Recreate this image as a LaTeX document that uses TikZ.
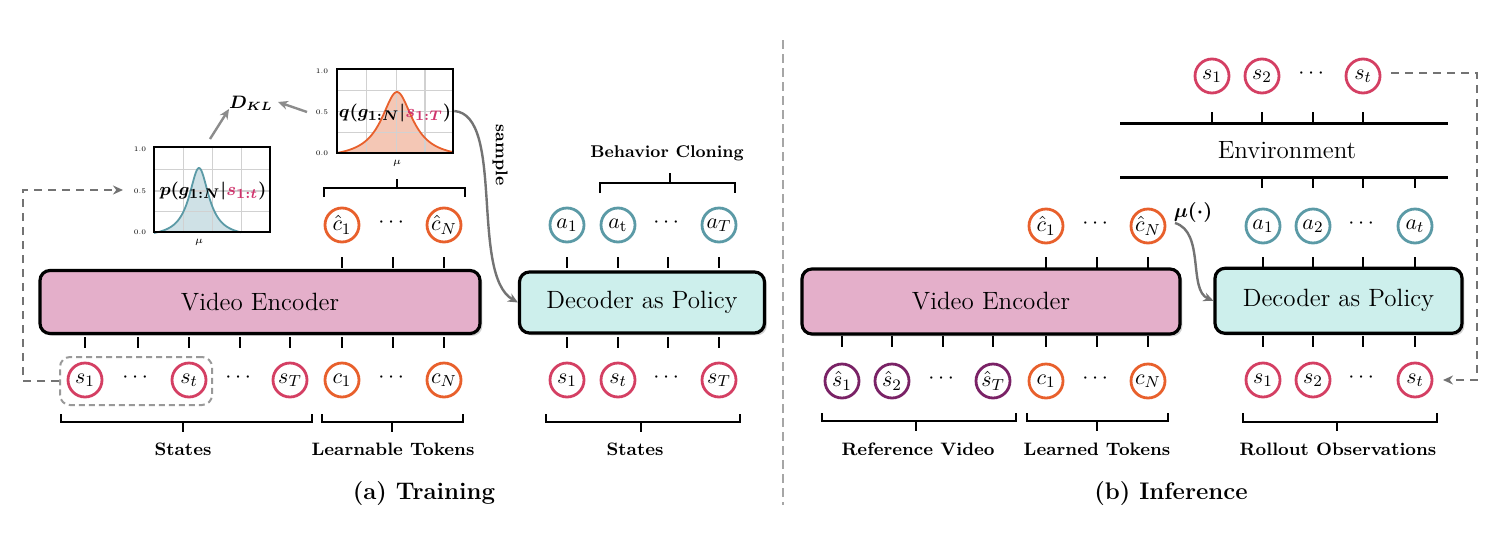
\documentclass[tikz,border=0pt]{standalone}
\usepackage{amsmath}
\usetikzlibrary{shadows,arrows.meta}
\definecolor{smag}{HTML}{D43F63}
\definecolor{corg}{HTML}{E8602C}
\definecolor{ateal}{HTML}{5B9AA6}
\definecolor{spur}{HTML}{7A2266}
\definecolor{encfill}{HTML}{E4AFCA}
\definecolor{decfill}{HTML}{CDEFEC}
\definecolor{qfill}{HTML}{F4C7B5}
\definecolor{pfill}{HTML}{CFE1E6}
\definecolor{txtmag}{HTML}{D0336C}
\newcommand{\qlabel}{$\boldsymbol{q(g_{1:N}\vert}\textcolor{txtmag}{\boldsymbol{s_{1:T}}}\boldsymbol{)}$}
\newcommand{\plabel}{$\boldsymbol{p(g_{1:N}\vert}\textcolor{txtmag}{\boldsymbol{s_{1:t}}}\boldsymbol{)}$}
\tikzset{
  tok/.style={circle,draw,line width=1.4pt,minimum size=17pt,inner sep=0pt,font=\fontsize{11}{11}\selectfont},
  stok/.style={tok,draw=smag},
  ctok/.style={tok,draw=corg},
  atok/.style={tok,draw=ateal},
  ptok/.style={tok,draw=spur},
  dotsn/.style={inner sep=0pt,font=\fontsize{11}{11}\selectfont},
  bigbox/.style={draw=black,line width=1.6pt,rounded corners=5pt,inner sep=0pt,
    drop shadow={opacity=0.35,shadow xshift=1.2pt,shadow yshift=-1.2pt},
    font=\fontsize{12.5}{14}\selectfont},
  tickln/.style={line width=1.4pt},
  brk/.style={line width=1.4pt},
  lbl/.style={font=\fontsize{9}{10}\selectfont\bfseries,inner sep=0pt},
  captxt/.style={font=\fontsize{12}{13}\selectfont\bfseries,inner sep=0pt},
  axl/.style={font=\fontsize{3.5}{4}\selectfont,inner sep=0pt},
  mlbl/.style={inner sep=0pt,font=\fontsize{9.5}{10}\selectfont},
  garrow/.style={draw=black!45,line width=1.2pt,-{Stealth[length=5pt,width=4.5pt]}},
  gdash/.style={draw=black!55,line width=1.1pt,dash pattern=on 4pt off 3pt},
}
\begin{document}
\begin{tikzpicture}[x=0.5pt,y=-0.5pt]
\useasboundingbox (0,0) rectangle (1498,552);

% ================= (a) Training =================
\node[bigbox,fill=encfill,minimum width=220pt,minimum height=31.5pt] (enc) at (260,302) {Video Encoder};
\node[bigbox,fill=decfill,minimum width=122.5pt,minimum height=30.5pt] (dec) at (642,302.5) {Decoder as Policy};

% bottom tokens of encoder
\node[stok] (s1) at (85,380) {$s_1$};
\node[dotsn] (d1) at (137,378) {$\cdots$};
\node[stok] (st) at (189,380) {$s_t$};
\node[dotsn] (d2) at (240,378) {$\cdots$};
\node[stok] (sT) at (290,380) {$s_T$};
\node[ctok] (c1) at (342,380) {$c_1$};
\node[dotsn] (d3) at (393,378) {$\cdots$};
\node[ctok] (cN) at (444,380) {$c_N$};
\foreach \x in {85,138,189,240,290,342,393,444} \draw[tickln] (\x,337) -- (\x,348);
% top tokens
\node[ctok] (ch1) at (342,225) {$\hat c_1$};
\node[dotsn] (d4) at (393,223) {$\cdots$};
\node[ctok] (chN) at (444,225) {$\hat c_N$};
\foreach \x in {342,393,444} \draw[tickln] (\x,257) -- (\x,268);

% dashed group box
\node[draw=black!40,line width=1pt,dash pattern=on 3pt off 2pt,rounded corners=5pt,
  minimum width=76pt,minimum height=24pt] (grp) at (136,381) {};
\coordinate (fb1) at (23,381);
\coordinate (fb2) at (23,190);
\coordinate (fbend) at (123,190);
\draw[gdash,-{Stealth[length=5pt,width=4.5pt]}] (grp.west) -- (fb1) -- (fb2) -- (fbend);

% brackets
\draw[brk] (61,414) -- (61,422) -- (312,422) -- (312,414);
\draw[brk] (183,422) -- (183,432);
\node[lbl] (lstates) at (183,449) {States};
\draw[brk] (322,414) -- (322,422) -- (463,422) -- (463,414);
\draw[brk] (392,422) -- (392,432);
\node[lbl] (llearn) at (393,449) {Learnable Tokens};
\draw[brk] (324,197) -- (324,188) -- (465,188) -- (465,197);
\draw[brk] (397,188) -- (397,179);

% q plot
\fill[qfill] plot[domain=337:453,samples=120] (\x,{153-61*(1/(1+((\x-397)/19)^2)-0.09)/0.91}) -- (453,153) -- (337,153) -- cycle;
\foreach \x in {366.7,396.7,425} \draw[black!18,line width=0.6pt] (\x,69) -- (\x,153);
\foreach \y in {90.7,111.7,132.5} \draw[black!18,line width=0.6pt] (337,\y) -- (453,\y);
\draw[corg,line width=0.9pt] plot[domain=337:453,samples=120] (\x,{153-61*(1/(1+((\x-397)/19)^2)-0.09)/0.91});
\node[draw=black,line width=1.3pt,minimum width=58pt,minimum height=42pt,inner sep=0pt] (qbox) at (395,111) {};
\node[axl] (q10) at (322,71) {1.0};
\node[axl] (q05) at (322,112) {0.5};
\node[axl] (q00) at (322,153) {0.0};
\node[axl] (qmu) at (397,163) {$\mu$};
\node[mlbl] (qtxt) at (395,113) {\qlabel};

% p plot
\fill[pfill] plot[domain=154:241,samples=120] (\x,{232-64*(1/(1+((\x-199)/12)^2)-0.08)/0.92}) -- (241,232) -- (154,232) -- cycle;
\foreach \x in {183.3,212.7,241.7} \draw[black!18,line width=0.6pt] (\x,147) -- (\x,232);
\foreach \y in {169.3,191,211.7} \draw[black!18,line width=0.6pt] (154,\y) -- (270,\y);
\draw[ateal,line width=0.9pt] plot[domain=154:241,samples=120] (\x,{232-64*(1/(1+((\x-199)/12)^2)-0.08)/0.92});
\node[draw=black,line width=1.3pt,minimum width=58pt,minimum height=42.5pt,inner sep=0pt] (pbox) at (212,189.5) {};
\node[axl] (p10) at (140,149) {1.0};
\node[axl] (p05) at (140,191) {0.5};
\node[axl] (p00) at (140,232) {0.0};
\node[axl] (pmu) at (199,242) {$\mu$};
\node[mlbl] (ptxt) at (213,191) {\plabel};

\node[mlbl,font=\fontsize{9}{10}\selectfont] (dkl) at (251,103) {$\boldsymbol{D_{KL}}$};
\draw[garrow] (210,139) -- (229,109);
\draw[garrow] (307,112) -- (278,102);

% sample curve
\draw[draw=black!55,line width=1.2pt,-{Stealth[length=5pt,width=4.5pt]}] (qbox.east) .. controls (505,115) and (470,275) .. (dec.west);
\node[inner sep=0pt,rotate=-90,font=\fontsize{8.5}{9}\selectfont\bfseries] (smp) at (500,155) {sample};

% decoder tokens
\node[stok] (ds1) at (567,380) {$s_1$};
\node[stok] (dst) at (618,380) {$s_t$};
\node[dotsn] (d5) at (668,378) {$\cdots$};
\node[stok] (dsT) at (719,380) {$s_T$};
\foreach \x in {567,618,668,719} {\draw[tickln] (\x,337) -- (\x,348); \draw[tickln] (\x,257) -- (\x,268);}
\node[atok] (a1) at (567,225) {$a_1$};
\node[atok] (at) at (618,225) {$a_{\mathrm{t}}$};
\node[dotsn] (d6) at (668,223) {$\cdots$};
\node[atok] (aT) at (719,225) {$a_T$};
\draw[brk] (546,414) -- (546,422) -- (740,422) -- (740,414);
\draw[brk] (641,422) -- (641,432);
\node[lbl] (lstates2) at (635,449) {States};
\draw[brk] (600,193) -- (600,183) -- (735,183) -- (735,193);
\draw[brk] (670,183) -- (670,173);
\node[lbl,font=\fontsize{8.5}{10}\selectfont\bfseries] (lbc) at (667,153) {Behavior Cloning};

\node[captxt] (capa) at (424,494) {(a) Training};

% divider
\draw[black!35,line width=1pt,dash pattern=on 4.5pt off 2.5pt] (783,40) -- (783,505);

% ================= (b) Inference =================
\node[bigbox,fill=encfill,minimum width=189pt,minimum height=32.5pt] (enc2) at (991,301.5) {Video Encoder};
\node[bigbox,fill=decfill,minimum width=123.5pt,minimum height=32.5pt] (dec2) at (1338.5,300.8) {Decoder as Policy};

\node[ptok] (hs1) at (842,381) {$\hat s_1$};
\node[ptok] (hs2) at (892,381) {$\hat s_2$};
\node[dotsn] (d7) at (943,379) {$\cdots$};
\node[ptok] (hsT) at (993,381) {$\hat s_T$};
\node[ctok] (ec1) at (1046,381) {$c_1$};
\node[dotsn] (d8) at (1097,379) {$\cdots$};
\node[ctok] (ecN) at (1148,381) {$c_N$};
\foreach \x in {842,892,943,993,1046,1097,1148} \draw[tickln] (\x,336) -- (\x,347);
\node[ctok] (ech1) at (1046,226) {$\hat c_1$};
\node[dotsn] (d9) at (1097,224) {$\cdots$};
\node[ctok] (echN) at (1148,226) {$\hat c_N$};
\foreach \x in {1046,1097,1148} \draw[tickln] (\x,257) -- (\x,268);

\draw[brk] (822,413) -- (822,421) -- (1016,421) -- (1016,413);
\draw[brk] (916,421) -- (916,431);
\node[lbl] (lref) at (918,449) {Reference Video};
\draw[brk] (1027,413) -- (1027,421) -- (1168,421) -- (1168,413);
\draw[brk] (1097,421) -- (1097,431);
\node[lbl] (lltok) at (1097,449) {Learned Tokens};

% mu curve
\coordinate (mustart) at (1175,223);
\draw[draw=black!55,line width=1.2pt,-{Stealth[length=5pt,width=4.5pt]}] (mustart) .. controls (1205,232) and (1188,290) .. (dec2.west);
\node[mlbl,font=\fontsize{10}{11}\selectfont] (mu) at (1193,212) {$\boldsymbol{\mu(\cdot)}$};

% decoder tokens
\foreach \x in {1263,1313,1363,1415} {\draw[tickln] (\x,336) -- (\x,347); \draw[tickln] (\x,257) -- (\x,268);}
\node[stok] (rs1) at (1263,380) {$s_1$};
\node[stok] (rs2) at (1313,380) {$s_2$};
\node[dotsn] (d10) at (1363,378) {$\cdots$};
\node[stok] (rst) at (1415,380) {$s_t$};
\node[atok] (ra1) at (1263,226) {$a_1$};
\node[atok] (ra2) at (1313,226) {$a_2$};
\node[dotsn] (d11) at (1363,224) {$\cdots$};
\node[atok] (rat) at (1415,226) {$a_t$};
\draw[brk] (1243,413) -- (1243,422) -- (1437,422) -- (1437,413);
\draw[brk] (1337,422) -- (1337,431);
\node[lbl] (lroll) at (1338,449) {Rollout Observations};

% environment
\draw[line width=1.5pt] (1120,123) -- (1448,123);
\draw[line width=1.5pt] (1120,177) -- (1448,177);
\node[inner sep=0pt,font=\fontsize{12.5}{13}\selectfont] (env) at (1287,150) {Environment};
\foreach \x in {1212,1262,1313,1363} \draw[tickln] (\x,112) -- (\x,123);
\foreach \x in {1262,1313,1363,1415} \draw[tickln] (\x,177) -- (\x,188);
\node[stok] (es1) at (1212,76) {$s_1$};
\node[stok] (es2) at (1262,76) {$s_2$};
\node[dotsn] (d12) at (1313,74) {$\cdots$};
\node[stok] (est) at (1363,76) {$s_t$};
\coordinate (fr0) at (1391,73);
\coordinate (fr1) at (1477,73);
\coordinate (fr2) at (1477,380);
\coordinate (fr3) at (1443,380);
\draw[gdash,-{Stealth[length=5pt,width=4.5pt]}] (fr0) -- (fr1) -- (fr2) -- (fr3);

\node[captxt] (capb) at (1171,494) {(b) Inference};
\end{tikzpicture}
\end{document}
